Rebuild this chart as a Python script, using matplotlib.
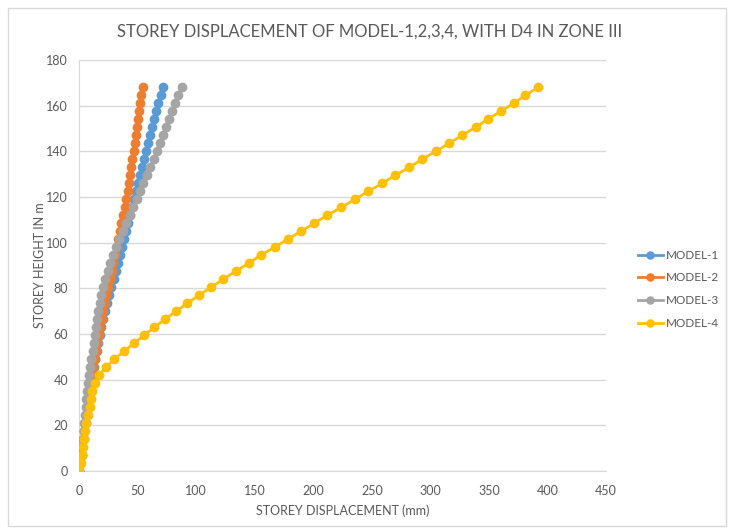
import matplotlib
matplotlib.use('Agg')
import matplotlib.pyplot as plt
from matplotlib.patches import Rectangle

# storey levels (m)
heights = [0, 3.5, 7, 10.5, 14, 17.5, 21, 24.5, 28, 31.5, 35, 38.5, 42, 45.5, 49,
           52.5, 56, 59.5, 63, 66.5, 70, 73.5, 77, 80.5, 84, 87.5, 91, 94.5, 98,
           101.5, 105, 108.5, 112, 115.5, 119, 122.5, 126, 129.5, 133, 136.5, 140,
           143.5, 147, 150.5, 154, 157.5, 161, 164.5, 168]

# storey displacement (mm)
model_1 = [0, 1.2, 2.1, 2.9, 3.8, 4.5, 5.6, 6.6, 7.5, 8.3, 9.2, 10.2, 11.4, 12.6, 13.8,
           15.0, 16.2, 17.6, 19.1, 20.7, 22.4, 24.1, 25.9, 27.7, 29.6, 31.4, 33.2, 35.0, 36.8,
           38.5, 40.2, 41.9, 43.6, 45.3, 47.0, 48.7, 50.4, 52.1, 53.8, 55.5, 57.3,
           59.0, 60.7, 62.5, 64.2, 66.0, 67.8, 69.7, 71.7]
model_2 = [0, 1.2, 2.1, 2.9, 3.7, 4.5, 5.5, 6.4, 7.3, 8.2, 9.1, 10.0, 11.1, 12.2, 13.3,
           14.4, 15.6, 16.9, 18.2, 19.5, 20.8, 22.1, 23.4, 24.8, 26.3, 27.8, 29.3, 30.8, 32.2,
           33.2, 34.7, 36.2, 37.6, 39.0, 40.3, 41.4, 42.5, 43.5, 44.5, 45.5, 46.6,
           47.5, 48.4, 49.3, 50.2, 51.1, 52.1, 53.2, 54.3]
model_3 = [0, 1.0, 1.8, 2.5, 3.2, 3.8, 4.5, 5.1, 5.7, 6.2, 6.7, 7.4, 8.3, 9.3, 10.4,
           11.5, 12.6, 13.6, 14.6, 15.6, 16.6, 17.7, 18.9, 20.3, 22.2, 24.4, 26.8, 29.3, 31.9,
           34.5, 37.4, 40.3, 43.2, 46.2, 49.2, 52.1, 55.0, 57.9, 60.8, 63.6, 66.4,
           69.1, 71.8, 74.5, 77.1, 79.7, 82.3, 84.9, 87.5]
model_4 = [0, 1.4, 2.3, 3.1, 4.2, 4.8, 6.3, 8.0, 9.0, 10.0, 11.4, 13.7, 17.0, 22.7, 30.2,
           38.4, 47.0, 55.5, 64.3, 73.4, 83.0, 92.5, 102.4, 112.7, 123.0, 133.7, 145.0, 155.0, 167.0,
           178.0, 189.6, 200.6, 212.0, 224.0, 235.7, 247.0, 259.0, 270.0, 282.0, 293.0, 304.6,
           316.0, 327.0, 338.5, 349.0, 360.0, 371.0, 381.0, 392.0]

series = [('MODEL-1', model_1, '#5B9BD5'),
          ('MODEL-2', model_2, '#ED7D31'),
          ('MODEL-3', model_3, '#A5A5A5'),
          ('MODEL-4', model_4, '#FFC000')]

plt.rcParams['font.family'] = ['Lato', 'DejaVu Sans']
txt = '#595959'

fig = plt.figure(figsize=(7.32, 5.30), dpi=100)
ax = fig.add_axes([0.108, 0.111, 0.72, 0.776])

for name, vals, col in series:
    ax.plot(vals, heights, color=col, lw=2, marker='o', ms=6, label=name, zorder=3)

ax.set_xlim(0, 450)
ax.set_ylim(0, 180)
ax.set_xticks(range(0, 451, 50))
ax.set_yticks(range(0, 181, 20))
ax.grid(axis='y', color='#D9D9D9', lw=1)
ax.set_axisbelow(True)
for s in ['top', 'right']:
    ax.spines[s].set_visible(False)
ax.spines['left'].set_color('#D9D9D9')
ax.spines['bottom'].set_color('#D9D9D9')
ax.tick_params(length=0, labelsize=9, colors=txt, pad=8)
ax.tick_params(axis='x', pad=10)

ax.set_xlabel('STOREY DISPLACEMENT (mm)', fontsize=9, color=txt, labelpad=5)
ax.set_ylabel('STOREY HEIGHT IN m', fontsize=9, color=txt, labelpad=0)
fig.text(0.505, 0.94, 'STOREY DISPLACEMENT OF MODEL-1,2,3,4, WITH D4 IN ZONE III',
         ha='center', va='center', fontsize=12, color=txt)

leg = ax.legend(loc='center left', bbox_to_anchor=(1.04, 0.442), frameon=False,
                fontsize=8.5, handlelength=2.1, labelspacing=1.0, handletextpad=0.3,
                markerscale=0.85)
for t in leg.get_texts():
    t.set_color(txt)

fig.patches.append(Rectangle((0.011, 0.008), 0.981, 0.977, transform=fig.transFigure,
                             fill=False, edgecolor='#D9D9D9', lw=1))

plt.savefig('out.png', dpi=100)
